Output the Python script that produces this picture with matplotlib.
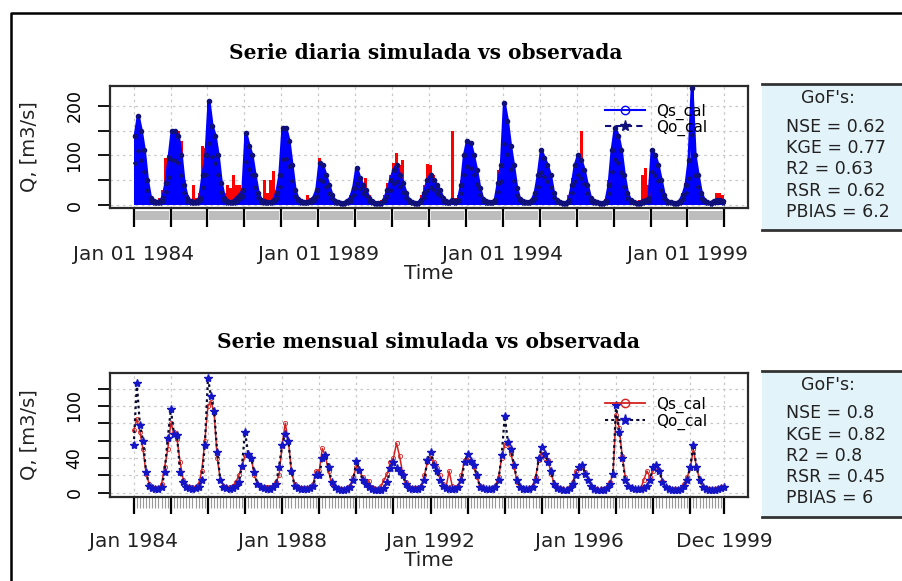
#!/usr/bin/env python
# coding=utf-8
"""
Daily and monthly simulated vs observed discharge (Qs_cal / Qo_cal)
"""

import numpy as np
import matplotlib
matplotlib.use('Agg')
import matplotlib.pyplot as plt
from matplotlib.patches import Rectangle
from matplotlib.lines import Line2D
from matplotlib.transforms import blended_transform_factory

#  Daily series, given as the maximum of each month (Jan 1984 - Dec 1999)
daily_obs = [
    140, 180, 150, 110, 50, 15, 8, 6, 8, 15, 45, 95,      # 1984
    150, 150, 140, 100, 40, 15, 8, 6, 8, 15, 60, 100,     # 1985
    210, 160, 140, 100, 45, 15, 8, 6, 8, 15, 20, 30,      # 1986
    145, 120, 100, 60, 25, 10, 8, 6, 6, 10, 25, 60,       # 1987
    155, 155, 130, 80, 30, 12, 8, 6, 6, 10, 15, 30,       # 1988
    85, 80, 60, 40, 20, 8, 6, 5, 5, 8, 15, 35,            # 1989
    75, 55, 40, 30, 15, 8, 5, 5, 5, 10, 30, 50,           # 1990
    70, 80, 60, 45, 25, 10, 6, 5, 5, 10, 25, 50,          # 1991
    60, 50, 40, 30, 15, 8, 6, 10, 8, 10, 40, 100,         # 1992
    130, 125, 100, 70, 35, 12, 8, 6, 6, 10, 45, 80,       # 1993
    205, 170, 120, 80, 35, 12, 8, 6, 6, 10, 25, 60,       # 1994
    110, 95, 80, 60, 25, 10, 6, 5, 5, 10, 40, 80,         # 1995
    100, 90, 70, 40, 15, 8, 6, 5, 5, 8, 40, 110,          # 1996
    155, 140, 110, 60, 25, 10, 6, 5, 5, 8, 10, 15,        # 1997
    110, 100, 80, 50, 20, 8, 6, 5, 5, 8, 20, 40,          # 1998
    90, 235, 100, 60, 25, 10, 6, 5, 8, 10, 10, 8,         # 1999
]
daily_sim = [
    100, 120, 110, 80, 40, 15, 10, 10, 15, 30, 95, 100,   # 1984
    130, 140, 150, 130, 50, 20, 12, 40, 15, 25, 120, 115,  # 1985
    120, 140, 130, 80, 35, 25, 40, 35, 60, 40, 40, 35,    # 1986
    100, 90, 80, 50, 20, 15, 50, 25, 50, 68, 30, 50,      # 1987
    110, 120, 110, 70, 25, 12, 8, 6, 20, 15, 15, 30,      # 1988
    95, 85, 65, 40, 25, 10, 8, 6, 6, 10, 20, 30,          # 1989
    60, 50, 40, 55, 20, 10, 8, 6, 10, 20, 45, 60,         # 1990
    85, 105, 80, 90, 30, 12, 8, 6, 8, 20, 40, 83,         # 1991
    80, 60, 45, 30, 20, 10, 8, 150, 15, 20, 50, 90,       # 1992
    100, 110, 90, 60, 30, 12, 8, 6, 6, 15, 70, 90,        # 1993
    100, 120, 100, 70, 30, 12, 8, 6, 8, 15, 30, 60,       # 1994
    90, 80, 70, 50, 25, 10, 8, 6, 8, 20, 55, 70,          # 1995
    80, 150, 60, 35, 15, 8, 6, 5, 6, 12, 50, 100,         # 1996
    120, 120, 100, 55, 25, 10, 8, 6, 10, 60, 75, 40,      # 1997
    90, 85, 70, 45, 20, 8, 6, 5, 6, 10, 25, 45,           # 1998
    70, 90, 80, 50, 20, 8, 6, 5, 10, 25, 25, 20,          # 1999
]

#  Monthly series (Jan 1984 - Dec 1999)
monthly_obs = [
    55, 126, 78, 60, 24, 8, 5, 4, 4, 6, 24, 63,    # 1984
    96, 68, 66, 24, 12, 6, 5, 4, 5, 6, 15, 55,     # 1985
    132, 111, 94, 47, 15, 6, 5, 4, 5, 8, 12, 31,   # 1986
    70, 45, 40, 24, 10, 6, 5, 4, 4, 6, 10, 30,     # 1987
    55, 68, 60, 25, 8, 5, 4, 4, 4, 5, 8, 20,       # 1988
    20, 40, 44, 30, 12, 6, 4, 3, 3, 4, 6, 15,      # 1989
    36, 26, 15, 10, 6, 4, 3, 3, 3, 5, 12, 28,      # 1990
    35, 28, 25, 20, 10, 5, 4, 4, 4, 6, 15, 38,     # 1991
    47, 32, 25, 15, 8, 5, 4, 4, 4, 6, 15, 35,      # 1992
    45, 36, 32, 20, 6, 5, 4, 4, 4, 6, 15, 43,      # 1993
    88, 59, 50, 32, 15, 6, 4, 4, 4, 6, 15, 40,     # 1994
    53, 45, 35, 25, 10, 5, 4, 3, 3, 5, 10, 20,     # 1995
    30, 32, 22, 15, 8, 4, 3, 3, 3, 5, 10, 22,      # 1996
    101, 70, 40, 15, 8, 5, 4, 4, 4, 5, 8, 15,      # 1997
    30, 32, 25, 12, 6, 4, 3, 3, 3, 4, 8, 15,       # 1998
    30, 55, 30, 15, 6, 4, 3, 3, 3, 4, 5, 6,        # 1999
]
monthly_sim = [
    72, 85, 70, 50, 22, 10, 6, 5, 5, 10, 30, 50,   # 1984
    80, 70, 62, 35, 15, 8, 6, 6, 6, 10, 25, 60,    # 1985
    100, 105, 92, 40, 15, 8, 6, 6, 8, 12, 20, 30,  # 1986
    43, 45, 40, 20, 10, 7, 6, 6, 6, 8, 12, 20,     # 1987
    55, 80, 60, 25, 10, 6, 5, 5, 5, 6, 10, 25,     # 1988
    25, 51, 42, 25, 10, 6, 5, 4, 4, 5, 8, 18,      # 1989
    30, 25, 18, 12, 14, 6, 4, 4, 8, 15, 22, 35,    # 1990
    40, 57, 42, 22, 12, 6, 5, 5, 5, 8, 20, 35,     # 1991
    40, 35, 28, 20, 10, 6, 25, 8, 5, 8, 20, 38,    # 1992
    40, 35, 30, 18, 8, 5, 4, 4, 5, 8, 18, 40,      # 1993
    55, 58, 45, 30, 12, 6, 5, 4, 5, 8, 18, 38,     # 1994
    45, 40, 38, 22, 10, 6, 5, 4, 4, 6, 12, 25,     # 1995
    28, 30, 24, 15, 8, 5, 4, 4, 4, 6, 12, 20,      # 1996
    90, 75, 42, 18, 8, 5, 4, 4, 5, 15, 25, 18,     # 1997
    25, 30, 26, 14, 7, 5, 4, 4, 4, 5, 10, 18,      # 1998
    28, 50, 30, 15, 7, 5, 4, 4, 4, 5, 6, 7,        # 1999
]

#  Goodness of fit values
gof_daily = ['NSE = 0.62', 'KGE = 0.77', 'R2 = 0.63', 'RSR = 0.62',
             'PBIAS = 6.2']
gof_monthly = ['NSE = 0.8', 'KGE = 0.82', 'R2 = 0.8', 'RSR = 0.45',
               'PBIAS = 6']

titles = ['Serie diaria simulada vs observada',
          'Serie mensual simulada vs observada']

W, H = 903, 581
SANS = 'DejaVu Sans'


def px_rect(x0, y0, x1, y1):
    return [x0 / W, 1 - y1 / H, (x1 - x0) / W, (y1 - y0) / H]


def fx(x):
    return x / W


def fy(y):
    return 1 - y / H


def style_axes(ax):
    for sp in ax.spines.values():
        sp.set_linewidth(1.6)
        sp.set_color('#2a2a2a')
    ax.grid(True, color='#c8c8c8', linestyle=(0, (2, 3)), linewidth=0.9)
    ax.set_axisbelow(True)
    ax.tick_params(axis='y', direction='out', length=9, width=1.3,
                   labelsize=12.5, pad=10, labelrotation=90)
    for lab in ax.get_yticklabels():
        lab.set_verticalalignment('center')


def gof_box(fig, y_top, y_bot, y_head, y_lines, values):
    fig.patches.append(Rectangle((fx(762), fy(y_bot)), fx(W - 762),
                                 (y_bot - y_top) / H, transform=fig.transFigure,
                                 facecolor='#e3f3fa', edgecolor='none'))
    for yy in (y_top, y_bot):
        fig.lines.append(Line2D([fx(762), 1], [fy(yy), fy(yy)],
                                transform=fig.transFigure, color='#333333',
                                linewidth=2))
    fig.text(fx(828), fy(y_head), "GoF's:", ha='center', va='center',
             fontsize=12.5, family=SANS, color='#222222')
    for yy, txt in zip(y_lines, values):
        fig.text(fx(786), fy(yy), txt, ha='left', va='center',
                 fontsize=12.5, family=SANS, color='#222222')


fig = plt.figure(figsize=(W / 100, H / 100), dpi=100)

#  Outer frame
fig.lines.append(Line2D([fx(11.5), fx(11.5), 1], [0, fy(13), fy(13)],
                        transform=fig.transFigure, color='black',
                        linewidth=1.8))

n = len(monthly_obs)
t_month = 1984 + np.arange(n) / 12.0
t_mid = t_month + 1 / 24.0

# ---------------- daily panel ----------------
ax1 = fig.add_axes(px_rect(110, 86, 748, 208))
ax1.bar(t_mid, daily_sim, width=1 / 12.0, color='red', linewidth=0,
        zorder=2)
ax1.bar(t_mid, daily_obs, width=1 / 12.0, color='blue', linewidth=0,
        zorder=3)
ax1.plot(t_mid, daily_obs, color='blue', linewidth=2.2, zorder=3)
ax1.plot(t_mid, daily_obs, linestyle='none', marker='o', markersize=3,
         color='#10107a', zorder=4)
ax1.plot(t_mid, np.array(daily_obs) * 0.6, linestyle='none', marker='*',
         markersize=3, color='#10107a', zorder=4)
ax1.set_xlim(1984 - 0.64, 2000 + 0.64)
ax1.set_ylim(-6, 240)
ax1.set_yticks([0, 50, 100, 150, 200])
ax1.set_yticklabels(['0', '', '100', '', '200'])
years_d = np.arange(1984, 2001)
ax1.set_xticks(years_d)
ax1.set_xticklabels([''] * len(years_d))
ax1.tick_params(axis='x', direction='out', length=14, width=1.6, pad=2)
style_axes(ax1)

#  Gray strip below the daily axis
tr = blended_transform_factory(ax1.transData, ax1.transAxes)
for y in range(1984, 2000):
    ax1.add_patch(Rectangle((y + 0.05, -0.10), 0.9, 0.075, transform=tr,
                            facecolor='#bdbdbd', edgecolor='none',
                            clip_on=False))

for x, lab in zip([1984, 1989, 1994, 1999],
                  ['Jan 01 1984', 'Jan 01 1989', 'Jan 01 1994',
                   'Jan 01 1999']):
    ax1.text(x, -0.385, lab, transform=tr, ha='center', va='center',
             fontsize=14.5, family=SANS, color='#222222')

ax1.legend(handles=[
    Line2D([], [], color='blue', linewidth=1.5, marker='o', markersize=6,
           markerfacecolor='none'),
    Line2D([], [], color='#10107a', linewidth=1.5, linestyle=(0, (3, 2)),
           marker='*', markersize=8)],
    labels=['Qs_cal', 'Qo_cal'], loc='upper left',
    bbox_to_anchor=(0.755, 0.97), frameon=False, fontsize=11,
    labelspacing=0.0, handlelength=2.6, handletextpad=0.7)

# ---------------- monthly panel ----------------
ax2 = fig.add_axes(px_rect(110, 373, 748, 497))
ax2.plot(t_month, monthly_sim, color='#d42020', linewidth=1.1,
         marker='o', markersize=3, markerfacecolor='none',
         markeredgewidth=0.6, zorder=3)
ax2.plot(t_month, monthly_obs, color='#0a0a30', linewidth=1.6,
         linestyle=(0, (1.2, 1.5)), zorder=4)
ax2.plot(t_month, monthly_obs, linestyle='none', marker='*', markersize=6,
         color='#1515c8', zorder=5)
ax2.set_xlim(1984 - 0.64, 1984 + 191 / 12.0 + 0.64)
ax2.set_ylim(-5, 138)
ax2.set_yticks([0, 20, 40, 60, 80, 100, 120])
ax2.set_yticklabels(['0', '', '40', '', '', '100', ''])
major_m = list(np.arange(1984, 2000)) + [1984 + 191 / 12.0]
ax2.set_xticks(major_m)
ax2.set_xticklabels([''] * len(major_m))
ax2.set_xticks(t_month, minor=True)
ax2.tick_params(axis='x', which='major', direction='out', length=12,
                width=1.6)
ax2.tick_params(axis='x', which='minor', direction='out', length=8,
                width=0.8, color='#9a9a9a')
style_axes(ax2)

tr2 = blended_transform_factory(ax2.transData, ax2.transAxes)
for x, lab in zip([1984, 1988, 1992, 1996, 1984 + 191 / 12.0],
                  ['Jan 1984', 'Jan 1988', 'Jan 1992', 'Jan 1996',
                   'Dec 1999']):
    ax2.text(x, -0.36, lab, transform=tr2, ha='center', va='center',
             fontsize=14.5, family=SANS, color='#222222')

ax2.legend(handles=[
    Line2D([], [], color='#d42020', linewidth=1.3, marker='o', markersize=6,
           markerfacecolor='none'),
    Line2D([], [], color='#0a0a30', linewidth=1.5, linestyle=(0, (1.5, 1.5)),
           marker='*', markersize=8, markerfacecolor='#1515c8',
           markeredgecolor='#1515c8')],
    labels=['Qs_cal', 'Qo_cal'], loc='upper left',
    bbox_to_anchor=(0.755, 0.92), frameon=False, fontsize=11,
    labelspacing=0.05, handlelength=2.6, handletextpad=0.7)

#  Titles, axis labels
fig.text(fx(426), fy(53), titles[0], ha='center', va='center',
         fontsize=14.5, family='DejaVu Serif', weight='bold')
fig.text(fx(429), fy(342), titles[1], ha='center', va='center',
         fontsize=14.5, family='DejaVu Serif', weight='bold')
for yy in (273, 560):
    fig.text(fx(429), fy(yy), 'Time', ha='center', va='center',
             fontsize=14.5, family=SANS, color='#222222')
for yy in (147, 435):
    fig.text(fx(29), fy(yy), 'Q, [m3/s]', ha='center', va='center',
             rotation=90, fontsize=14, family=SANS, color='#222222')

#  Goodness-of-fit boxes
gof_box(fig, 84, 230, 98, [127, 148, 169, 191, 212], gof_daily)
gof_box(fig, 371, 517, 385, [413, 435, 456, 477, 498], gof_monthly)

fig.savefig('out.png', dpi=100)
plt.close(fig)
